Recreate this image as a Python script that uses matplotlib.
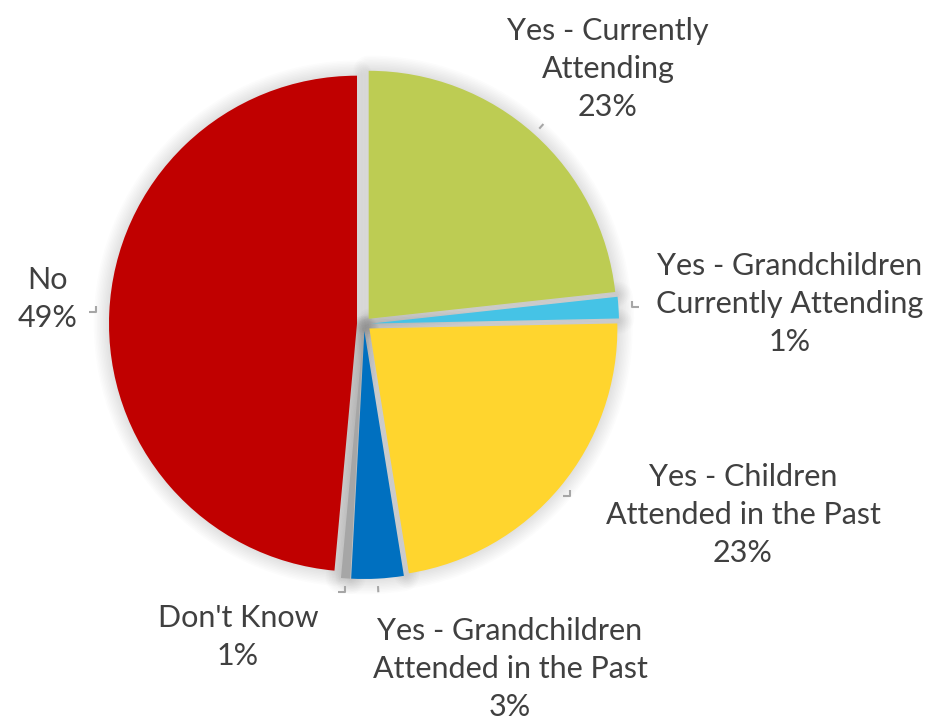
import numpy as np
import matplotlib.pyplot as plt

labels = ["Yes - Currently\nAttending",
          "Yes - Grandchildren\nCurrently Attending",
          "Yes - Children\nAttended in the Past",
          "Yes - Grandchildren\nAttended in the Past",
          "Don't Know",
          "No"]
shares = [23.3, 1.4, 22.8, 3.4, 0.6, 48.6]
colors = ["#BDCC53", "#45C3E6", "#FFD52E", "#0070C0", "#A6A6A6", "#C00000"]

# label anchor points (pixel space, y measured from top)
label_xy = [(608, 69), (790, 304), (743, 515), (510, 669), (238, 637), (48, 299)]
# which way the little leader hook turns
hooks = [0, 1, -1, 0, -1, -1]

W, H = 933, 726
cx, cy, R = 364, H - 324, 248
explode = [7] * len(shares)   # pie() takes explode in data units

fig = plt.figure(figsize=(W / 100, H / 100), dpi=100)
ax = fig.add_axes([0, 0, 1, 1])

# soft shadow under the wedges
for lw in np.linspace(22, 2, 10):
    ax.pie(shares, colors=["none"] * len(shares), startangle=90, counterclock=False,
           explode=explode, center=(cx, cy), radius=R, frame=True,
           wedgeprops=dict(edgecolor=(0, 0, 0, 0.011), linewidth=lw, joinstyle="round"))

wedges, _ = ax.pie(shares, colors=colors, startangle=90, counterclock=False,
                   explode=explode, center=(cx, cy), radius=R, frame=True,
                   wedgeprops=dict(edgecolor="none", linewidth=0))
ax.set_xlim(0, W)
ax.set_ylim(0, H)
ax.set_aspect("equal")
ax.axis("off")

total = sum(shares)
for w, lab, v, (lx, ly), hk in zip(wedges, labels, shares, label_xy, hooks):
    mid = np.deg2rad((w.theta1 + w.theta2) / 2)
    ox, oy = w.center
    x0 = ox + R * 1.03 * np.cos(mid)
    y0 = oy + R * 1.03 * np.sin(mid)
    x1 = ox + R * 1.055 * np.cos(mid)
    y1 = oy + R * 1.055 * np.sin(mid)
    if hk == 0:
        ax.plot([x0, x1], [y0, y1], color="#A6A6A6", lw=1.5, solid_capstyle="butt")
    else:
        ax.plot([x1, x1, x1 + 7 * hk], [y1 + 6, y1, y1], color="#A6A6A6", lw=1.5,
                solid_capstyle="butt")
    pct = v / total * 100
    ax.text(lx, H - ly, f"{lab}\n{pct:.0f}%", ha="center", va="center",
            fontsize=22, family="Lato", color="#404040", linespacing=1.45)

fig.savefig("out.png", dpi=100)
